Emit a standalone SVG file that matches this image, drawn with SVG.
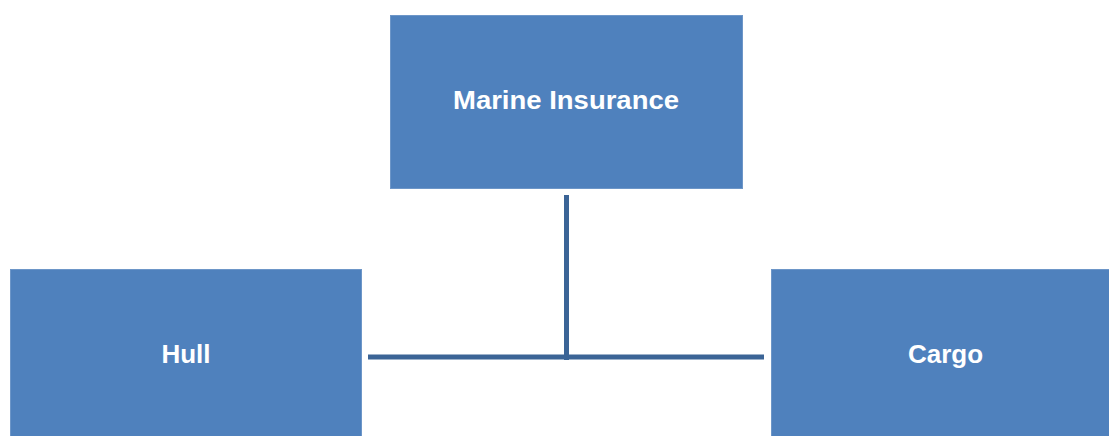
<svg xmlns="http://www.w3.org/2000/svg" width="1109" height="436" viewBox="0 0 1109 436">
  <style>
    .box { fill: #4f81bd; stroke: #6d96c8; stroke-width: 1; }
    .label { fill: #ffffff; font-family: "Liberation Sans", Arial, sans-serif; font-weight: bold; font-size: 26px; text-anchor: middle; }
    .link { stroke: #3b6496; stroke-width: 5; fill: none; stroke-linecap: butt; }
  </style>
  <rect width="1109" height="436" fill="#ffffff"/>

  <!-- connectors -->
  <g id="connectors">
    <line class="link" x1="566.5" y1="195" x2="566.5" y2="360"/>
    <line class="link" x1="368" y1="357" x2="764" y2="357"/>
  </g>

  <g id="node-marine">
    <rect class="box" x="390.5" y="15.5" width="352" height="173"/>
    <text class="label" x="566" y="109" textLength="226" lengthAdjust="spacingAndGlyphs">Marine Insurance</text>
  </g>

  <g id="node-hull">
    <rect class="box" x="10.5" y="269.5" width="351" height="180"/>
    <text class="label" x="186" y="363">Hull</text>
  </g>

  <g id="node-cargo">
    <rect class="box" x="771.5" y="269.5" width="350" height="180"/>
    <text class="label" x="945.5" y="363">Cargo</text>
  </g>
</svg>
